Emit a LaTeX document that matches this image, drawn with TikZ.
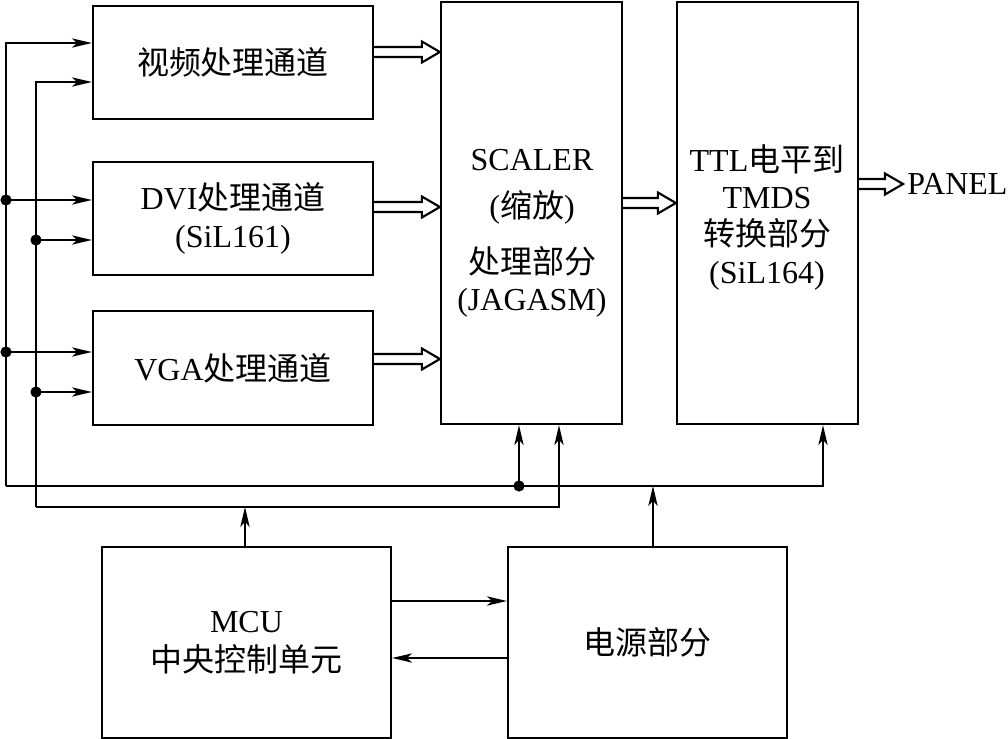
\documentclass[tikz,border=0pt]{standalone}
\usepackage{fontspec}
\setmainfont{Liberation Serif}
\newfontfamily\cjk{Noto Sans CJK SC}
\usetikzlibrary{arrows.meta,calc}

% hollow wide arrow along one row
\newcommand{\widearrow}[2]{%
	\coordinate (wa) at (#1); \coordinate (wb) at (#2);
	\draw[line width=1.6pt, line join=miter] ($(wa)+(0,-5)$) -- ($(wb)+(-18,-5)$) -- ($(wb)+(-18,-10.5)$) -- (wb) -- ($(wb)+(-18,10.5)$) -- ($(wb)+(-18,5)$) -- ($(wa)+(0,5)$);}

\begin{document}
\begin{tikzpicture}[x=0.75pt, y=-0.75pt, every node/.style={font=\fontsize{24}{29}\selectfont, align=center}, >={Stealth[length=15pt,width=7pt,inset=4pt]}, box/.style={draw, line width=1.7pt, inner sep=0pt}, sig/.style={->, line width=1.3pt}]
	\useasboundingbox (0,0) rectangle (1008,739);
	% blocks
	\node[box, minimum width=210pt, minimum height=84.75pt] (video) at (233,62.5) {{\cjk 视频处理通道}};
	\node[box, minimum width=210pt, minimum height=84.75pt] (dvi) at (233,218.5) {DVI{\cjk 处理通道}\\(SiL161)};
	\node[box, minimum width=210pt, minimum height=85.5pt] (vga) at (233,368) {VGA{\cjk 处理通道}};
	\node[box, minimum width=135.75pt, minimum height=316.5pt] (scaler) at (531.5,213) {};
	\node[font=\fontsize{24}{35}\selectfont] (scalertop) at (532,187) {SCALER\\({\cjk 缩放})};
	\node[font=\fontsize{24}{28}\selectfont] (scalerbot) at (532,282) {{\cjk 处理部分}\\(JAGASM)};
	\node[box, minimum width=135.75pt, minimum height=316.5pt] (ttl) at (767.5,213) {};
	\node[font=\fontsize{24}{28}\selectfont] (ttltext) at (767,217) {TTL{\cjk 电平到}\\TMDS\\{\cjk 转换部分}\\(SiL164)};
	\node[box, minimum width=216.75pt, minimum height=143.25pt] (mcu) at (246.5,642.5) {MCU\\{\cjk 中央控制单元}};
	\node[box, minimum width=209.25pt, minimum height=143.25pt] (power) at (647.5,642.5) {{\cjk 电源部分}};
	\node[anchor=west, inner sep=3pt] (panel) at (903,184) {PANEL};
	% rows and columns of the buses
	\coordinate (pw) at (6,486);
	\coordinate (ct) at (36,507);
	\coordinate (p1) at (0,43); \coordinate (p2) at (0,200); \coordinate (p3) at (0,352);
	\coordinate (c1) at (0,82); \coordinate (c2) at (0,240); \coordinate (c3) at (0,392);
	\coordinate (ps) at (519,0); \coordinate (pt) at (823,0); \coordinate (pm) at (653,0);
	\coordinate (cs) at (559,0); \coordinate (cm) at (245,0);
	\coordinate (m1) at (0,601); \coordinate (m2) at (0,658);
	% power bus
	\draw[sig] (pw) |- (video.west |- p1);
	\draw[sig] (pw |- p2) -- (dvi.west |- p2);
	\draw[sig] (pw |- p3) -- (vga.west |- p3);
	\draw[sig] (pw) -| (ttl.south -| pt);
	\draw[sig] (pw -| ps) -- (scaler.south -| ps);
	\draw[sig] (power.north -| pm) -- (pw -| pm);
	% control bus
	\draw[sig] (ct) |- (video.west |- c1);
	\draw[sig] (ct |- c2) -- (dvi.west |- c2);
	\draw[sig] (ct |- c3) -- (vga.west |- c3);
	\draw[sig] (ct) -| (scaler.south -| cs);
	\draw[sig] (mcu.north -| cm) -- (ct -| cm);
	\foreach \p in {pw |- p2, pw |- p3, ct |- c2, ct |- c3, pw -| ps} {\fill (\p) circle (4.2pt);}
	\draw[sig] (mcu.east |- m1) -- (power.west |- m1);
	\draw[sig] (power.west |- m2) -- (mcu.east |- m2);
	% data paths
	\coordinate (w1) at (0,52); \coordinate (w2) at (0,207); \coordinate (w3) at (0,359);
	\coordinate (w4) at (0,203); \coordinate (w5) at (0,184);
	\widearrow{video.east |- w1}{scaler.west |- w1}
	\widearrow{dvi.east |- w2}{scaler.west |- w2}
	\widearrow{vga.east |- w3}{scaler.west |- w3}
	\widearrow{scaler.east |- w4}{ttl.west |- w4}
	\widearrow{ttl.east |- w5}{panel.west |- w5}
\end{tikzpicture}
\end{document}
